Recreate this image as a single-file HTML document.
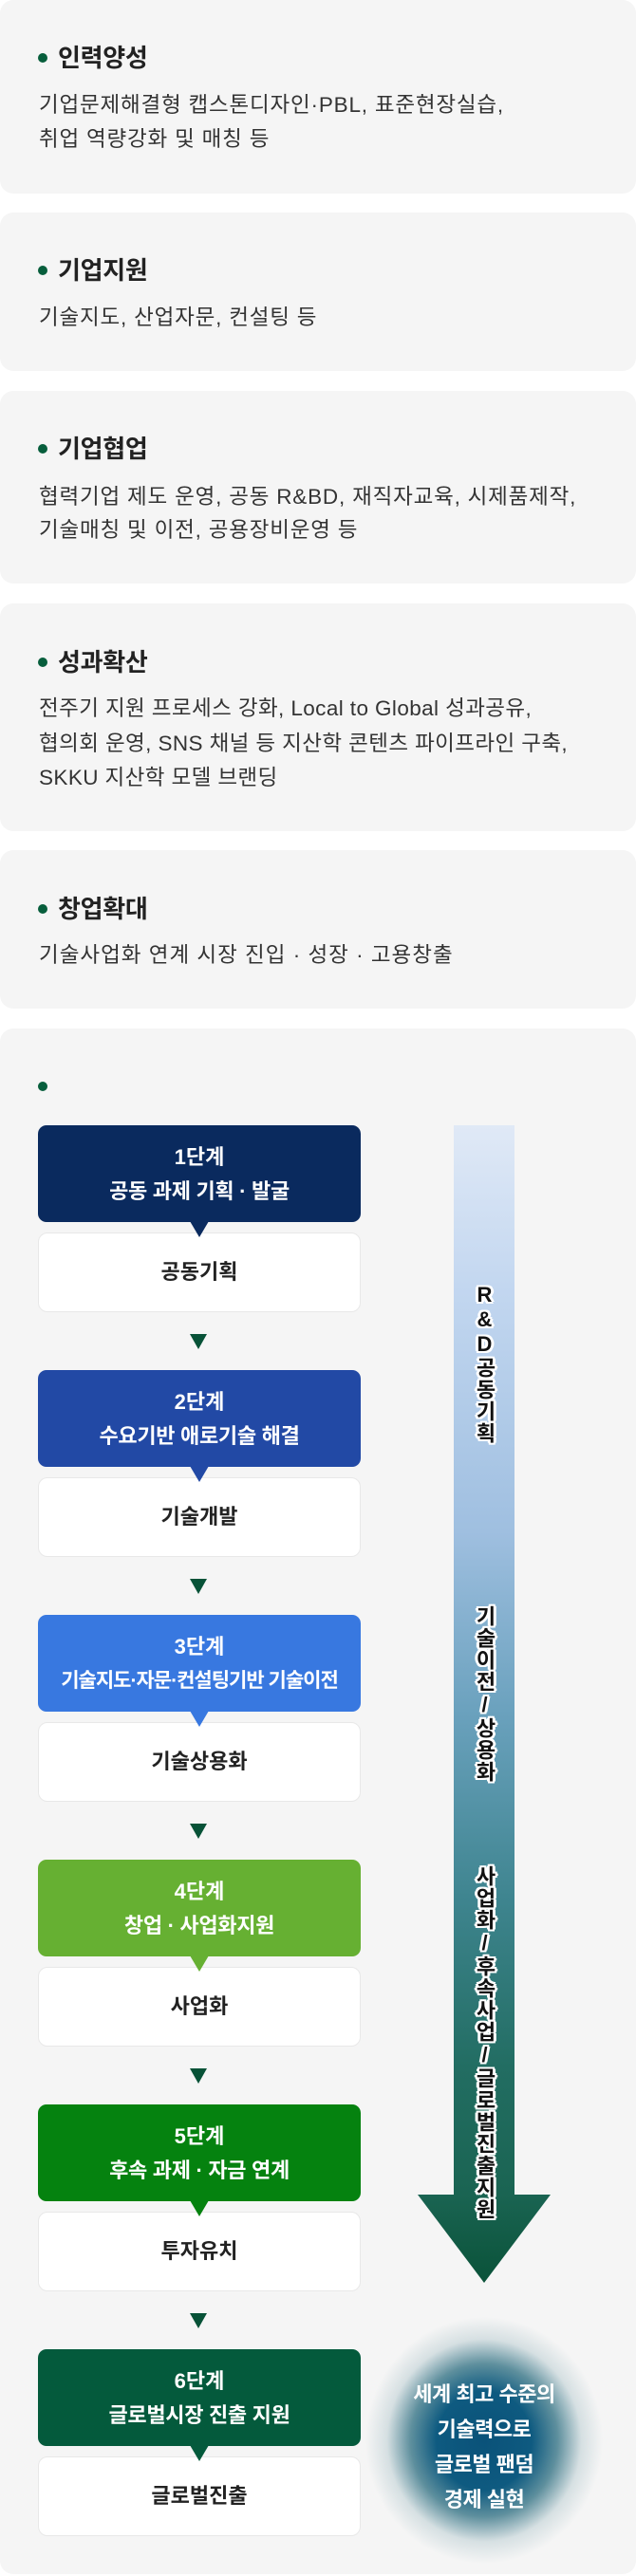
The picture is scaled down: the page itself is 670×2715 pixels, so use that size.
<!DOCTYPE html>
<html><head><meta charset="utf-8"><style>
*{margin:0;padding:0;box-sizing:border-box}
body{width:670px;height:2715px;background:#fff;position:relative;font-family:"Liberation Sans","Noto Sans CJK KR",sans-serif;color:#222;overflow:hidden}
.card{position:absolute;left:0;width:670px;background:#f5f5f5;border-radius:14px}
.dot{position:absolute;left:40px;width:10px;height:10px;border-radius:50%;background:#075e3c}
.t{position:absolute;left:61px;font-size:26px;font-weight:bold;color:#222;line-height:30px;letter-spacing:-0.3px}
.b{position:absolute;left:41px;font-size:22.5px;color:#333;line-height:36px;letter-spacing:0.8px;white-space:nowrap}
.step{position:absolute;left:40px;width:340px;height:102px;border-radius:9px;color:#fff;text-align:center;z-index:2}
.step .n{position:absolute;top:20px;left:0;right:0;font-size:22px;font-weight:bold;line-height:28px}
.step .d{position:absolute;top:56px;left:0;right:0;font-size:22px;font-weight:bold;line-height:28px;letter-spacing:-0.3px;white-space:nowrap}
.step:after{content:"";position:absolute;left:160px;bottom:-16px;border-left:10px solid transparent;border-right:10px solid transparent;border-top:17px solid var(--c)}
.wb{position:absolute;left:40px;width:340px;height:84px;background:#fff;border:1px solid #e8e8e8;border-radius:10px;text-align:center;font-size:22px;font-weight:bold;line-height:82px;color:#222}
.ar{position:absolute;left:200px;width:0;height:0;border-left:9px solid transparent;border-right:9px solid transparent;border-top:16px solid #075237}
.vt{position:absolute;left:496px;width:28px;writing-mode:vertical-rl;text-orientation:upright;font-size:22px;font-weight:bold;color:#111;line-height:28px;letter-spacing:1px;
text-shadow:2px 0 #fff,-2px 0 #fff,0 2px #fff,0 -2px #fff,2px 2px #fff,-2px -2px #fff,2px -2px #fff,-2px 2px #fff,3px 0 #fff,-3px 0 #fff;z-index:3}
</style></head><body>

<div class="card" style="top:0;height:204px"></div>
<div class="dot" style="top:56px"></div>
<div class="t" style="top:46px">인력양성</div>
<div class="b" style="top:93px">기업문제해결형 캡스톤디자인·PBL, 표준현장실습,</div>
<div class="b" style="top:129px">취업 역량강화 및 매칭 등</div>

<div class="card" style="top:224px;height:167px"></div>
<div class="dot" style="top:280px"></div>
<div class="t" style="top:270px">기업지원</div>
<div class="b" style="top:317px">기술지도, 산업자문, 컨설팅 등</div>

<div class="card" style="top:412px;height:203px"></div>
<div class="dot" style="top:468px"></div>
<div class="t" style="top:458px">기업협업</div>
<div class="b" style="top:506px">협력기업 제도 운영, 공동 R&amp;BD, 재직자교육, 시제품제작,</div>
<div class="b" style="top:541px">기술매칭 및 이전, 공용장비운영 등</div>

<div class="card" style="top:636px;height:240px"></div>
<div class="dot" style="top:693px"></div>
<div class="t" style="top:683px">성과확산</div>
<div class="b" style="top:729px;letter-spacing:0.4px">전주기 지원 프로세스 강화, Local to Global 성과공유,</div>
<div class="b" style="top:766px;letter-spacing:0.4px">협의회 운영, SNS 채널 등 지산학 콘텐츠 파이프라인 구축,</div>
<div class="b" style="top:802px;letter-spacing:0.4px">SKKU 지산학 모델 브랜딩</div>

<div class="card" style="top:896px;height:167px"></div>
<div class="dot" style="top:953px"></div>
<div class="t" style="top:943px">창업확대</div>
<div class="b" style="top:989px;letter-spacing:1px">기술사업화 연계 시장 진입 · 성장 · 고용창출</div>

<div class="card" style="top:1084px;height:1629px"></div>
<div class="dot" style="top:1140px"></div>

<!-- vertical bar -->
<div style="position:absolute;left:478px;top:1186px;width:64px;height:1128px;background:linear-gradient(#e0e9f6 0%,#c3d7f0 15%,#9fbfe0 38%,#6aa1bd 55%,#3f8590 72%,#226d62 88%,#1a6452 100%)"></div>
<svg style="position:absolute;left:438px;top:2312px" width="144" height="95"><defs><linearGradient id="g" x1="0" y1="0" x2="0" y2="1"><stop offset="0" stop-color="#1a6452"/><stop offset="1" stop-color="#0a5239"/></linearGradient></defs><polygon points="2,1 142,1 72,94" fill="url(#g)"/></svg>
<div class="vt" style="top:1352px">R&amp;D공동기획</div>
<div class="vt" style="top:1692px">기술이전/상용화</div>
<div class="vt" style="top:1966px">사업화/후속사업/글로벌진출지원</div>

<!-- steps -->
<div class="step" style="top:1186px;background:#0a2a5e;--c:#0a2a5e"><div class="n">1단계</div><div class="d">공동 과제 기획 · 발굴</div></div>
<div class="wb" style="top:1299px">공동기획</div>
<div class="ar" style="top:1406px"></div>

<div class="step" style="top:1444px;background:#2249a5;--c:#2249a5"><div class="n">2단계</div><div class="d">수요기반 애로기술 해결</div></div>
<div class="wb" style="top:1557px">기술개발</div>
<div class="ar" style="top:1664px"></div>

<div class="step" style="top:1702px;background:#3878e0;--c:#3878e0"><div class="n">3단계</div><div class="d" style="font-size:21px;letter-spacing:-1px">기술지도·자문·컨설팅기반 기술이전</div></div>
<div class="wb" style="top:1815px">기술상용화</div>
<div class="ar" style="top:1922px"></div>

<div class="step" style="top:1960px;background:#66b032;--c:#66b032"><div class="n">4단계</div><div class="d">창업 · 사업화지원</div></div>
<div class="wb" style="top:2073px">사업화</div>
<div class="ar" style="top:2180px"></div>

<div class="step" style="top:2218px;background:#05820f;--c:#05820f"><div class="n">5단계</div><div class="d">후속 과제 · 자금 연계</div></div>
<div class="wb" style="top:2331px">투자유치</div>
<div class="ar" style="top:2438px"></div>

<div class="step" style="top:2476px;background:#045a3c;--c:#045a3c"><div class="n">6단계</div><div class="d">글로벌시장 진출 지원</div></div>
<div class="wb" style="top:2589px">글로벌진출</div>

<!-- glow -->
<div style="position:absolute;left:385px;top:2442px;width:250px;height:260px;border-radius:50%;background:radial-gradient(ellipse closest-side at center,#0a5279 0%,#0e5a80 40%,rgba(30,100,120,0.7) 62%,rgba(120,160,170,0.25) 82%,rgba(245,245,245,0) 100%)"></div>
<div style="position:absolute;left:385px;top:2505px;width:250px;text-align:center;color:#fff;font-size:22px;font-weight:bold;line-height:37px;letter-spacing:-0.5px">세계 최고 수준의<br>기술력으로<br>글로벌 팬덤<br>경제 실현</div>

</body></html>
